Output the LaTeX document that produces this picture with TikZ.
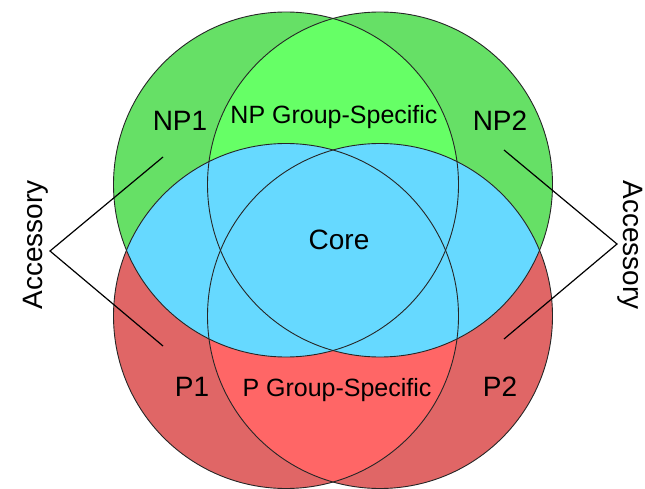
\documentclass[tikz,border=0pt]{standalone}
\usepackage{fontspec}
\setmainfont{Liberation Sans}
\usepackage{tikz}
\definecolor{npouter}{HTML}{66E066}
\definecolor{npinner}{HTML}{66FF66}
\definecolor{pouter}{HTML}{E06666}
\definecolor{pinner}{HTML}{FF6666}
\definecolor{corefill}{HTML}{66D9FF}
\tikzset{
  ring/.style={draw=black!85,line width=0.9pt},
  bracket/.style={draw=black,line width=1.2pt},
  setname/.style={anchor=base,inner sep=0pt,font=\fontsize{28}{30}\selectfont},
  groupname/.style={anchor=base,inner sep=0pt,font=\fontsize{25}{27}\selectfont},
}

\begin{document}
\begin{tikzpicture}[x=1pt,y=-1pt]
		\useasboundingbox (0,0) rectangle (645,489);
		\def\rad{172.5}
		\coordinate (np1) at (286,184.5);
		\coordinate (np2) at (380,184.5);
		\coordinate (p1)  at (286,316);
		\coordinate (p2)  at (380,316);
		% green and red sets
		\fill[npouter] (np1) circle[radius=\rad] (np2) circle[radius=\rad];
		\fill[pouter]  (p1) circle[radius=\rad] (p2) circle[radius=\rad];
		\begin{scope}
			\clip (np1) circle[radius=\rad];
			\fill[npinner] (np2) circle[radius=\rad];
		\end{scope}
		\begin{scope}
			\clip (p1) circle[radius=\rad];
			\fill[pinner] (p2) circle[radius=\rad];
		\end{scope}
		% core
		\begin{scope}
			\clip (np1) circle[radius=\rad] (np2) circle[radius=\rad];
			\fill[corefill] (p1) circle[radius=\rad] (p2) circle[radius=\rad];
		\end{scope}
		\foreach \c in {np1,np2,p1,p2}
			\draw[ring] (\c) circle[radius=\rad];
		% labels
		\node (NP1)  [setname] at (180,131) {NP1};
		\node (NP2)  [setname] at (500,131) {NP2};
		\node (P1)   [setname] at (192,396) {P1};
		\node (P2)   [setname] at (500,396) {P2};
		\node (NPgs) [groupname] at (334,123.5) {NP Group-Specific};
		\node (Pgs)  [groupname] at (337,396) {P Group-Specific};
		\node (core) [setname] at (339,249.5) {Core};
		\node (accL) [setname,rotate=90]  at (42,245) {Accessory};
		\node (accR) [setname,rotate=-90] at (623,245) {Accessory};
		% brackets
		\coordinate (tipL) at (50,251);
		\coordinate (tipR) at (617,244);
		\coordinate (np1end) at (163,157);
		\coordinate (p1end)  at (163,346);
		\coordinate (np2end) at (504,150);
		\coordinate (p2end)  at (504,339);
		\draw[bracket] (np1end) -- (tipL) -- (p1end);
		\draw[bracket] (np2end) -- (tipR) -- (p2end);
	\end{tikzpicture}
\end{document}
